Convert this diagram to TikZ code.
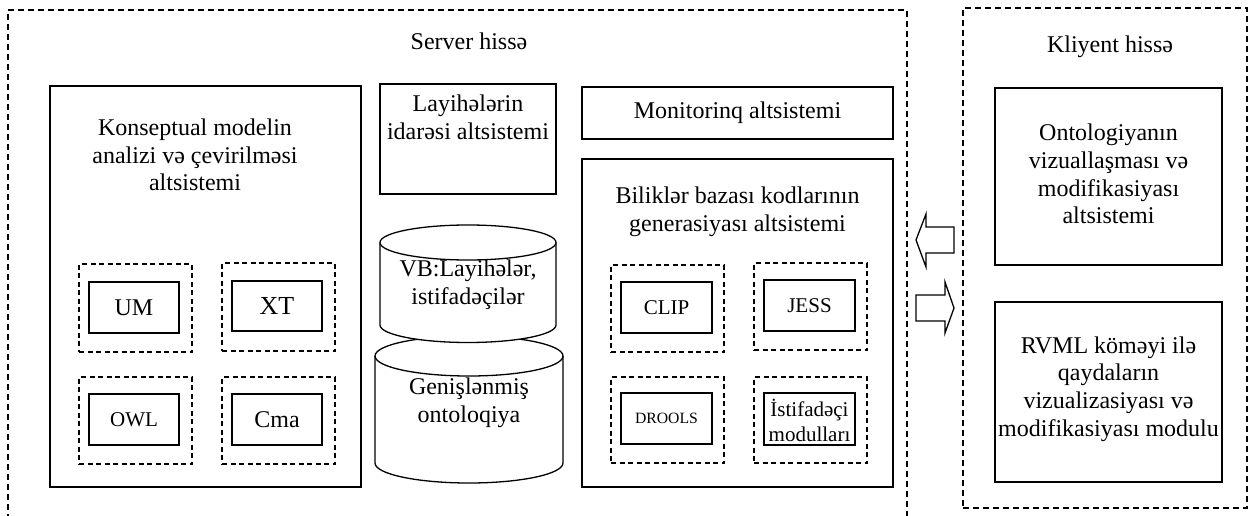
\documentclass[tikz,border=0pt]{standalone}
\usepackage{fontspec}
\setmainfont{Liberation Serif}
\usetikzlibrary{fit}

\tikzset{
  every node/.style={inner sep=0pt, outer sep=0pt, font=\fontsize{24}{27.6}\selectfont},
  wall/.style={draw, line width=1.3pt},
  zone/.style={draw, line width=1.2pt, dash pattern=on 6pt off 4pt},
  slot/.style={draw, line width=1.2pt, dash pattern=on 5pt off 3.5pt},
  txt/.style={align=center},
  tag/.style={text depth=0pt},
  small/.style={font=\fontsize{21}{25}\selectfont},
  blockarrow/.style={draw, line width=1.3pt, line join=miter, fill=white},
}

% database cylinder: centre x, half width, top y, bottom y, rim half height
\newcommand\drawcyl[5]{%
  \fill[white] (#1,#3) ellipse [x radius=#2, y radius=#5];
  \fill[white] ({#1-#2},#3) rectangle ({#1+#2},#4);
  \fill[white] (#1,#4) ellipse [x radius=#2, y radius=#5];
  \draw[line width=1.3pt] (#1,#3) ellipse [x radius=#2, y radius=#5];
  \draw[line width=1.3pt] ({#1-#2},#3) -- ({#1-#2},#4)
    .. controls ({#1-#2},{#4+0.552*#5}) and ({#1-0.552*#2},{#4+#5}) .. (#1,{#4+#5})
    .. controls ({#1+0.552*#2},{#4+#5}) and ({#1+#2},{#4+0.552*#5}) .. ({#1+#2},#4)
    -- ({#1+#2},#3);
}

\begin{document}
\begin{tikzpicture}[x=1pt, y=-1pt]
\useasboundingbox (0,0) rectangle (1253,516);

% ---------- server side ----------
\node[zone, fit={(8,10) (907,528)}] (server) {};
\node (serverT) at (469,41) {Server hissə};

% conceptual model subsystem
\node[wall, fit={(50,86) (361,487)}] (konsept) {};
\node[txt] (konseptT) at (195,155) {Konseptual modelin\\analizi və çevirilməsi\\altsistemi};

\node[slot, fit={(79,264) (192,352)}] (umS) {};
\node[wall, fit={(89,282) (179,333)}] (um) {};
\node[tag] at (um.center) (umT) {UM};
\node[slot, fit={(222,263) (335,351)}] (xtS) {};
\node[wall, fit={(232,281) (322,331)}] (xt) {};
\node[tag, font=\fontsize{26}{30}\selectfont] at (xt.center) (xtT) {XT};
\node[slot, fit={(79,377) (192,464)}] (owlS) {};
\node[wall, fit={(89,394) (179,445)}] (owl) {};
\node[tag, small] at (owl.center) (owlT) {OWL};
\node[slot, fit={(222,377) (335,464)}] (cmaS) {};
\node[wall, fit={(232,394) (322,445)}] (cma) {};
\node[tag] at (cma.center) (cmaT) {Cma};

% project management subsystem
\node[wall, fit={(380,84) (556,194)}] (layihe) {};
\node[txt] (layiheT) at (468,117) {Layihələrin\\idarəsi altsistemi};

% databases
\drawcyl{469}{94}{356}{463}{20}
\drawcyl{468}{88}{242.5}{325}{17.5}
\node[txt] (vb) at (468,285) {VB:Layihələr,\\istifadəçilər};
\node[txt] (onto) at (469,403) {Genişlənmiş\\ontoloqiya};

% monitoring subsystem
\node[wall, fit={(582,87) (893,139)}] (monit) {};
\node (monitT) at (737.5,113) {Monitorinq altsistemi};

% knowledge base code generation subsystem
\node[wall, fit={(582,159) (893,487)}] (bilik) {};
\node[txt] (bilikT) at (737.5,212) {Biliklər bazası kodlarının\\generasiyası altsistemi};

\node[slot, fit={(611,265) (724,352)}] (clipS) {};
\node[wall, fit={(621,282) (712,333)}] (clip) {};
\node[tag, small] at (clip.center) (clipT) {CLIP};
\node[slot, fit={(754,263) (867,350)}] (jessS) {};
\node[wall, fit={(764,280) (855,331)}] (jess) {};
\node[tag, small] at (jess.center) (jessT) {JESS};
\node[slot, fit={(611,377) (724,463)}] (droolsS) {};
\node[wall, fit={(621,393) (712,444)}] (drools) {};
\node[tag, font=\fontsize{15.7}{18}\selectfont] at (drools.center) (droolsT) {DROOLS};
\node[slot, fit={(754,377) (867,463)}] (userS) {};
\node[wall, fit={(764,393) (855,445)}] (user) {};
\node[txt, small] (userT) at (809.5,420.5) {İstifadəçi\\modulları};

% ---------- client side ----------
\node[zone, fit={(963,8) (1247,508)}] (client) {};
\node (clientT) at (1110,47) {Kliyent hissə};

\node[wall, fit={(995,88) (1222,265)}] (vis) {};
\node[txt] (visT) at (1108.5,174) {Ontologiyanın\\vizuallaşması və\\modifikasiyası\\altsistemi};

\node[wall, fit={(995,302) (1222,482)}] (rvml) {};
\node[txt] (rvmlT) at (1108.5,389) {RVML köməyi ilə\\qaydaların\\vizualizasiyası və\\modifikasiyası modulu};

% ---------- exchange arrows ----------
\draw[blockarrow] (954,227) -- (926,227) -- (926,214) -- (916,240) -- (926,267)
  -- (926,253) -- (954,253) -- cycle;
\draw[blockarrow] (916,295) -- (945,295) -- (945,282) -- (954,308) -- (945,333)
  -- (945,321) -- (916,321) -- cycle;
\end{tikzpicture}
\end{document}
